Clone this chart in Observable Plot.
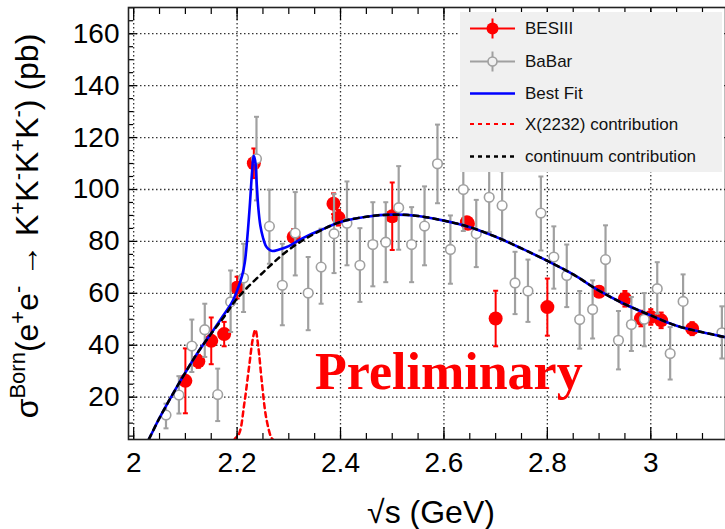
<!DOCTYPE html>
<html><head><meta charset="utf-8">
<script src="https://cdn.jsdelivr.net/npm/d3@7"></script>
<script src="https://cdn.jsdelivr.net/npm/@observablehq/plot@0.6"></script>
<style>html,body{margin:0;padding:0;background:#fff}#chart{width:725px;height:529px;overflow:hidden}</style>
</head><body><div id="chart"></div>
<script>
// ---- BESIII data ----
const besE   = [2.1000, 2.1250, 2.1500, 2.1750, 2.2000, 2.2324, 2.3094, 2.3864, 2.3960, 2.5000, 2.6444, 2.6464, 2.7000, 2.8000, 2.9000, 2.9500, 2.9810, 3.0000, 3.0200, 3.0800];
const besV   = [26.3, 33.8, 41.7, 44.3, 62.2, 110.1, 81.7, 94.5, 89.1, 89.7, 87.4, 86.8, 50.3, 54.7, 60.6, 57.9, 50.3, 50.9, 49.6, 46.4];
const besErr = [12.5, 2.5, 9.0, 4.7, 4.2, 5.7, 3.0, 4.0, 3.0, 13.0, 2.0, 2.0, 10.7, 11.0, 2.0, 3.0, 3.0, 3.0, 3.0, 2.5];
// ---- BaBar data ----
const babE  = [2.0625, 2.0875, 2.1125, 2.1375, 2.1625, 2.1875, 2.2125, 2.2375, 2.2625, 2.2875, 2.3125, 2.3375, 2.3625, 2.3875, 2.4125, 2.4375, 2.4625, 2.4875, 2.5125, 2.5375, 2.5625, 2.5875, 2.6125, 2.6375, 2.6625, 2.6875, 2.7125, 2.7375, 2.7625, 2.7875, 2.8125, 2.8375, 2.8625, 2.8875, 2.9125, 2.9375, 2.9625, 2.9875, 3.0125, 3.0375, 3.0625, 3.1375];
const babV  = [13.1, 20.8, 39.7, 46.0, 21.0, 56.7, 65.9, 111.8, 85.8, 63.1, 83.2, 60.1, 70.1, 83.0, 87.0, 70.8, 78.8, 79.7, 93.0, 78.8, 85.9, 109.9, 76.9, 100.0, 83.0, 97.0, 93.8, 64.0, 60.9, 90.9, 74.0, 66.9, 49.9, 53.8, 73.0, 41.9, 48.0, 50.0, 61.8, 36.8, 56.9, 44.8];
const babLo = [8.0, 13.7, 29.7, 35.5, 10.8, 45.1, 52.8, 95.8, 71.4, 47.7, 66.9, 45.8, 56.0, 67.8, 70.8, 56.7, 62.7, 64.3, 76.8, 64.3, 70.8, 94.7, 63.7, 84.0, 70.1, 83.6, 80.7, 52.0, 49.0, 76.5, 61.8, 54.7, 38.7, 42.6, 59.9, 30.7, 37.8, 39.6, 52.2, 26.8, 46.8, 34.9];
const babHi = [17.5, 28.1, 49.9, 56.0, 31.0, 68.8, 79.1, 128.0, 99.9, 79.1, 99.0, 74.0, 84.9, 98.3, 103.1, 85.1, 95.1, 95.1, 109.0, 93.2, 101.2, 125.0, 90.0, 116.0, 96.0, 110.5, 107.0, 76.0, 73.0, 105.0, 85.8, 78.8, 60.9, 65.0, 86.2, 53.2, 58.6, 60.1, 72.0, 47.0, 67.3, 55.0];
// ---- curves ----
const contE = [2.020, 2.029, 2.050, 2.075, 2.100, 2.125, 2.150, 2.175, 2.200, 2.250, 2.300, 2.350, 2.400, 2.450, 2.500, 2.550, 2.600, 2.650, 2.700, 2.750, 2.800, 2.850, 2.900, 2.950, 3.000, 3.050, 3.100, 3.150];
const contV = [0.5, 3.7, 12.0, 21.0, 29.5, 37.5, 44.5, 51.0, 58.0, 68.0, 76.8, 83.0, 87.5, 89.5, 90.3, 89.8, 88.0, 85.5, 81.8, 77.3, 72.5, 67.3, 61.0, 55.8, 51.5, 47.5, 45.0, 42.9];
const fitE  = [2.020, 2.029, 2.050, 2.075, 2.100, 2.125, 2.150, 2.170, 2.190, 2.200, 2.210, 2.215, 2.220, 2.225, 2.229, 2.232, 2.235, 2.238, 2.241, 2.245, 2.250, 2.255, 2.260, 2.268, 2.280, 2.300, 2.320, 2.340, 2.360, 2.400, 2.450, 2.500, 2.550, 2.600, 2.650, 2.700, 2.750, 2.800, 2.850, 2.900, 2.950, 3.000, 3.050, 3.100, 3.150];
const fitV  = [0.5, 3.7, 12.0, 21.0, 29.5, 37.5, 44.6, 50.5, 56.5, 61.0, 67.0, 72.0, 82.0, 95.0, 107.0, 113.0, 111.0, 102.0, 93.0, 86.0, 81.5, 78.5, 77.2, 76.3, 76.8, 78.2, 80.5, 82.5, 84.2, 87.5, 89.5, 90.3, 89.8, 88.0, 85.5, 81.8, 77.3, 72.5, 67.3, 61.0, 55.8, 51.5, 47.5, 45.0, 42.9];
const xE = [2.185, 2.195, 2.204, 2.214, 2.224, 2.230, 2.2353, 2.241, 2.2475, 2.256, 2.2655, 2.269, 2.280];
const xV = [0.0, 3.7, 6.0, 17.6, 33.0, 42.0, 46.0, 39.4, 26.5, 12.4, 4.7, 3.7, 0.0];
// ---- ticks / labels ----
const xMajor = [2, 2.2, 2.4, 2.6, 2.8, 3];
const xMinor = d3.range(2, 3.151, 0.05);
const yMajor = [20, 40, 60, 80, 100, 120, 140, 160];
const yMinor = d3.range(5, 170.1, 5);
const xTitle = "\u221As (GeV)";
const legendItems = ["BESIII", "BaBar", "Best Fit", "X(2232) contribution", "continuum contribution"];
const watermark = "Preliminary";

const bes = besE.map((e, i) => ({E: e, v: besV[i], lo: besV[i] - besErr[i], hi: besV[i] + besErr[i]}));
const bab = babE.map((e, i) => ({E: e, v: babV[i], lo: babLo[i], hi: babHi[i]}));
const cont = contE.map((e, i) => ({E: e, v: contV[i]}));
const fit = fitE.map((e, i) => ({E: e, v: fitV[i]}));
const xc = xE.map((e, i) => ({E: e, v: xV[i]}));

const capSym = {draw(ctx, size) { const w = Math.sqrt(size / Math.PI); ctx.moveTo(-w, 0); ctx.lineTo(w, 0); }};
const fmt = d => String(+d.toFixed(1));
const gridStyle = {stroke: "#111", strokeOpacity: 0.85, strokeWidth: 1.3, strokeDasharray: "1.5,2.5"};

const svg = Plot.plot({
  width: 725, height: 529,
  marginLeft: 128, marginRight: 0, marginTop: 7, marginBottom: 90,
  style: {fontFamily: "'Liberation Sans', Arial, sans-serif", background: "#fff", color: "#000"},
  x: {domain: [1.99, 3.1445]},
  y: {domain: [3.7, 170.1]},
  marks: [
    Plot.gridX(xMajor, gridStyle),
    Plot.gridY(yMajor, gridStyle),
    // BESIII
    Plot.link(bes, {x1: "E", x2: "E", y1: "lo", y2: "hi", stroke: "#ff0000", strokeWidth: 2, clip: true}),
    Plot.dot(bes, {x: "E", y: "hi", symbol: capSym, r: 2.5, stroke: "#ff0000", strokeWidth: 2, clip: true}),
    Plot.dot(bes, {x: "E", y: "lo", symbol: capSym, r: 2.5, stroke: "#ff0000", strokeWidth: 2, clip: true}),
    Plot.dot(bes, {x: "E", y: "v", r: 7, fill: "#ff0000", stroke: "none", clip: true}),
    // BaBar
    Plot.link(bab, {x1: "E", x2: "E", y1: "lo", y2: "hi", stroke: "#a0a0a0", strokeWidth: 2.2, clip: true}),
    Plot.dot(bab, {x: "E", y: "hi", symbol: capSym, r: 2.5, stroke: "#a0a0a0", strokeWidth: 2, clip: true}),
    Plot.dot(bab, {x: "E", y: "lo", symbol: capSym, r: 2.5, stroke: "#a0a0a0", strokeWidth: 2, clip: true}),
    Plot.dot(bab, {x: "E", y: "v", r: 4.8, fill: "#fff", stroke: "#a0a0a0", strokeWidth: 1.6, clip: true}),
    // curves
    Plot.line(xc, {x: "E", y: "v", stroke: "#ff0000", strokeWidth: 2.5, strokeDasharray: "5,4", curve: "catmull-rom", clip: true}),
    Plot.line(fit, {x: "E", y: "v", stroke: "#0000ff", strokeWidth: 2.6, curve: "catmull-rom", clip: true}),
    Plot.line(cont, {x: "E", y: "v", stroke: "#000", strokeWidth: 2.5, strokeDasharray: "5,5", curve: "catmull-rom", clip: true}),
    // axes: ticks inside
    Plot.axisX({anchor: "bottom", ticks: xMajor, tickSize: -12, fill: "none", label: null, strokeWidth: 1.2}),
    Plot.axisX({anchor: "bottom", ticks: xMinor, tickSize: -6, fill: "none", label: null, strokeWidth: 1.2}),
    Plot.axisX({anchor: "top", ticks: xMajor, tickSize: -12, fill: "none", label: null, strokeWidth: 1.2}),
    Plot.axisX({anchor: "top", ticks: xMinor, tickSize: -6, fill: "none", label: null, strokeWidth: 1.2}),
    Plot.axisY({anchor: "left", ticks: yMajor, tickSize: -9, fill: "none", label: null, strokeWidth: 1.2}),
    Plot.axisY({anchor: "left", ticks: yMinor, tickSize: -5, fill: "none", label: null, strokeWidth: 1.2}),
    Plot.axisX({anchor: "bottom", ticks: xMajor, tickSize: 0, tickPadding: 13, tickFormat: fmt, fontSize: 28, label: null}),
    Plot.axisY({anchor: "left", ticks: yMajor, tickSize: 0, tickPadding: 9, tickFormat: fmt, fontSize: 28, label: null}),
    Plot.frame({stroke: "#222", strokeWidth: 1.6})
  ]
});

const s = d3.select(svg);
// x title
s.append("text").attr("x", 431).attr("y", 523).attr("text-anchor", "middle")
  .attr("font-size", 32).attr("fill", "#000").text(xTitle);
// y title with superscripts
const yParts = [["\u03C3",0],["Born",1],["(e",0],["+",1],["e",0],["-",1],[" \u2192 K",0],["+",1],["K",0],["-",1],["K",0],["+",1],["K",0],["-",1],[") (pb)",0]];
const yt = s.append("text").attr("transform", "translate(38,226) rotate(-90)")
  .attr("text-anchor", "middle").attr("font-size", 32).attr("fill", "#000");
let up = false;
for (const [t, sup] of yParts) {
  const ts = yt.append("tspan").text(t);
  if (sup) { ts.attr("font-size", 22); if (!up) { ts.attr("dy", -13); up = true; } }
  else if (up) { ts.attr("dy", 13); up = false; }
}
// watermark
s.append("text").attr("x", 315).attr("y", 389).attr("text-anchor", "start")
  .attr("font-family", "'Liberation Serif', 'Times New Roman', serif")
  .attr("font-weight", "bold").attr("font-size", 52).attr("fill", "#ff0000").text(watermark);
// legend
const lg = s.append("g");
lg.append("rect").attr("x", 460).attr("y", 12).attr("width", 262).attr("height", 160).attr("fill", "#f0f0f0");
const rowsY = [28.5, 61.5, 93.5, 124, 156.5];
const lx0 = 470, lx1 = 515, lxm = 492.5;
lg.append("line").attr("x1", lx0).attr("x2", lx1).attr("y1", rowsY[0]).attr("y2", rowsY[0]).attr("stroke", "#ff0000").attr("stroke-width", 2);
lg.append("line").attr("x1", lxm).attr("x2", lxm).attr("y1", rowsY[0] - 10).attr("y2", rowsY[0] + 10).attr("stroke", "#ff0000").attr("stroke-width", 2);
lg.append("circle").attr("cx", lxm).attr("cy", rowsY[0]).attr("r", 6).attr("fill", "#ff0000");
lg.append("line").attr("x1", lx0).attr("x2", lx1).attr("y1", rowsY[1]).attr("y2", rowsY[1]).attr("stroke", "#a0a0a0").attr("stroke-width", 2);
lg.append("line").attr("x1", lxm).attr("x2", lxm).attr("y1", rowsY[1] - 10).attr("y2", rowsY[1] + 10).attr("stroke", "#a0a0a0").attr("stroke-width", 2);
lg.append("circle").attr("cx", lxm).attr("cy", rowsY[1]).attr("r", 4.5).attr("fill", "#f0f0f0").attr("stroke", "#a0a0a0").attr("stroke-width", 1.6);
lg.append("line").attr("x1", lx0).attr("x2", lx1).attr("y1", rowsY[2]).attr("y2", rowsY[2]).attr("stroke", "#0000ff").attr("stroke-width", 2.5);
lg.append("line").attr("x1", lx0).attr("x2", lx1).attr("y1", rowsY[3]).attr("y2", rowsY[3]).attr("stroke", "#ff0000").attr("stroke-width", 2).attr("stroke-dasharray", "4,4");
lg.append("line").attr("x1", lx0).attr("x2", lx1).attr("y1", rowsY[4]).attr("y2", rowsY[4]).attr("stroke", "#000").attr("stroke-width", 2.5).attr("stroke-dasharray", "4,4");
legendItems.forEach((t, i) => {
  lg.append("text").attr("x", 525).attr("y", rowsY[i]).attr("dy", "0.35em").attr("text-anchor", "start")
    .attr("font-size", 17).attr("fill", "#111").text(t);
});
document.getElementById("chart").appendChild(svg);
</script>
</body></html>
